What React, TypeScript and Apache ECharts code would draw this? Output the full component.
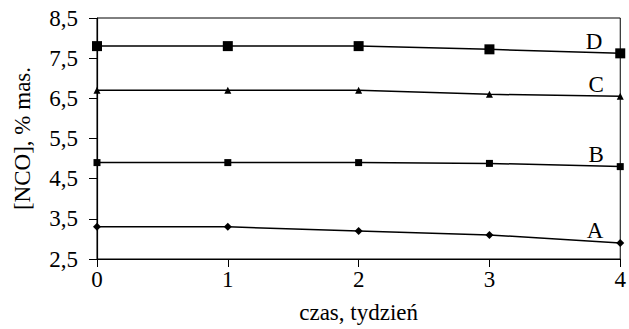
import React, { useEffect, useRef } from "react";
import * as echarts from "echarts";

const weeks = ["0", "1", "2", "3", "4"];
const seriesA = [3.3, 3.3, 3.2, 3.1, 2.9];
const seriesB = [4.9, 4.9, 4.9, 4.88, 4.8];
const seriesC = [6.7, 6.7, 6.7, 6.6, 6.55];
const seriesD = [7.8, 7.8, 7.8, 7.72, 7.62];
const seriesNames = ["A", "B", "C", "D"];
const FONT = "'Liberation Serif', 'Times New Roman', serif";
const FS = 23;

export default function App() {
  const ref = useRef<HTMLDivElement>(null);
  useEffect(() => {
    if (!ref.current) return;
    const chart = echarts.init(ref.current, null, { renderer: "svg" });
    const mk = (name: string, data: number[], symbol: string, size: number) => ({
      name,
      type: "line",
      data: data.map((v, i) =>
        i === data.length - 1
          ? {
              value: v,
              label: {
                show: true,
                formatter: name,
                position: "left",
                distance: 13,
                offset: [0, -12],
                fontFamily: FONT,
                fontSize: FS,
                color: "#000",
              },
            }
          : v
      ),
      symbol,
      symbolSize: size,
      showSymbol: true,
      lineStyle: { color: "#000", width: 1.5 },
      itemStyle: { color: "#000" },
      z: 3,
    });
    chart.setOption({
      animation: false,
      backgroundColor: "#fff",
      grid: { left: 97, right: 2, top: 18, bottom: 64, show: true, borderColor: "#000", borderWidth: 1 },
      xAxis: {
        type: "category",
        data: weeks,
        boundaryGap: false,
        name: "czas, tydzień",
        nameLocation: "middle",
        nameGap: 42,
        nameTextStyle: { fontFamily: FONT, fontSize: FS, color: "#000" },
        axisLine: { lineStyle: { color: "#000", width: 1.2 } },
        axisTick: { show: true, inside: false, length: 8, alignWithLabel: true, lineStyle: { color: "#000" } },
        axisLabel: { fontFamily: FONT, fontSize: FS, color: "#000", margin: 9 },
        splitLine: { show: false },
      },
      yAxis: {
        type: "value",
        min: 2.5,
        max: 8.5,
        interval: 1,
        name: "[NCO], % mas.",
        nameLocation: "middle",
        nameGap: 63,
        nameTextStyle: { fontFamily: FONT, fontSize: FS, color: "#000" },
        axisLine: { show: true, lineStyle: { color: "#000", width: 1.2 } },
        axisTick: { show: true, inside: false, length: 8, lineStyle: { color: "#000" } },
        axisLabel: {
          fontFamily: FONT,
          fontSize: FS,
          color: "#000",
          margin: 19,
          formatter: (v: number) => v.toFixed(1).replace(".", ","),
        },
        splitLine: { show: false },
      },
      series: [
        mk(seriesNames[0], seriesA, "diamond", 8),
        mk(seriesNames[1], seriesB, "rect", 7),
        mk(seriesNames[2], seriesC, "triangle", 7),
        mk(seriesNames[3], seriesD, "rect", 10),
      ],
    });
    return () => chart.dispose();
  }, []);
  return <div ref={ref} style={{ width: 629, height: 329, position: "absolute", left: 0, top: 0 }} />;
}
